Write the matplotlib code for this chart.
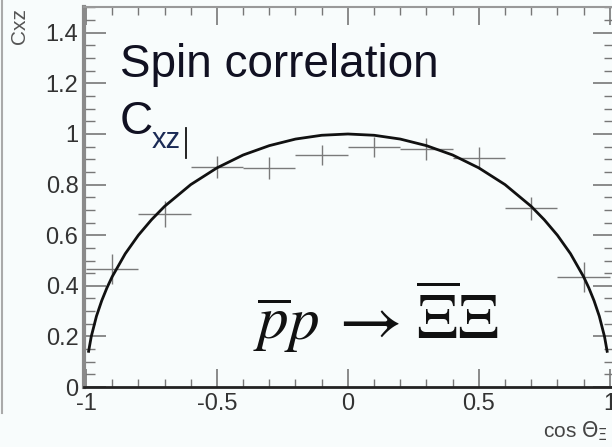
import matplotlib
matplotlib.use("Agg")
import matplotlib.pyplot as plt
from matplotlib.lines import Line2D
from matplotlib.ticker import FixedLocator, MultipleLocator

# measured C_xz per cos(theta) bin
cos_theta = [-0.9, -0.7, -0.5, -0.3, -0.1, 0.1, 0.3, 0.5, 0.7, 0.9]
cxz = [0.466, 0.684, 0.870, 0.866, 0.917, 0.949, 0.940, 0.905, 0.707, 0.435]
cxz_err = [0.060, 0.050, 0.045, 0.042, 0.038, 0.040, 0.043, 0.045, 0.045, 0.060]
bin_half = [0.1] * len(cos_theta)

# model curve
model_x = [-0.99, -0.98, -0.96, -0.94, -0.92, -0.90, -0.85, -0.80, -0.75, -0.70,
           -0.60, -0.50, -0.40, -0.30, -0.20, -0.10, 0.0,
           0.10, 0.20, 0.30, 0.40, 0.50, 0.60, 0.70, 0.75, 0.80,
           0.85, 0.90, 0.92, 0.94, 0.96, 0.98, 0.99]
model_y = [0.141, 0.199, 0.280, 0.341, 0.392, 0.436, 0.527, 0.600, 0.661, 0.714,
           0.800, 0.866, 0.917, 0.954, 0.980, 0.995, 1.000,
           0.995, 0.980, 0.954, 0.917, 0.866, 0.800, 0.714, 0.661, 0.600,
           0.527, 0.436, 0.392, 0.341, 0.280, 0.199, 0.141]

x_ticks = [-1, -0.5, 0, 0.5, 1]
x_labels = ["-1", "-0.5", "0", "0.5", "1"]
y_ticks = [0, 0.2, 0.4, 0.6, 0.8, 1.0, 1.2, 1.4]
y_labels = ["0", "0.2", "0.4", "0.6", "0.8", "1", "1.2", "1.4"]

W, H = 612, 447
bg = "#f8fcfc"

fig = plt.figure(figsize=(W / 100, H / 100), dpi=100, facecolor=bg)


def px(x, y):
    return x / W, 1 - y / H


ax = fig.add_axes([84 / W, (H - 387) / H, 531 / W, 379.5 / H], facecolor=bg)
ax.set_xlim(-1.0076, 1.02)
ax.set_ylim(0, 1.5)

ax.errorbar(cos_theta, cxz, xerr=bin_half, yerr=cxz_err, fmt="none",
            ecolor="#7a7a7a", elinewidth=1.0, capsize=0, zorder=2)
ax.plot(model_x, model_y, color="#111111", lw=2.0, zorder=3)

ax.xaxis.set_major_locator(FixedLocator(x_ticks))
ax.set_xticklabels(x_labels)
ax.xaxis.set_minor_locator(MultipleLocator(0.1))
ax.yaxis.set_major_locator(FixedLocator(y_ticks))
ax.set_yticklabels(y_labels)
ax.yaxis.set_minor_locator(MultipleLocator(0.05))

ax.tick_params(which="both", direction="in", top=True, right=True,
               colors="#777777", labelcolor="#333333")
ax.tick_params(which="major", length=13, width=1.2)
ax.tick_params(which="minor", length=6, width=1.0)
ax.tick_params(axis="y", which="major", length=16)
ax.tick_params(axis="y", which="minor", length=8)
ax.tick_params(axis="x", labelsize=17, pad=4)
ax.tick_params(axis="y", labelsize=17, pad=4)
for lab in ax.get_xticklabels() + ax.get_yticklabels():
    lab.set_fontfamily("Liberation Sans")

ax.spines["left"].set_color("#8a8a8a")
ax.spines["left"].set_linewidth(3)
ax.spines["bottom"].set_color("#222222")
ax.spines["bottom"].set_linewidth(2)
ax.spines["top"].set_color("#999999")
ax.spines["top"].set_linewidth(1.5)
ax.spines["right"].set_color("#999999")

# headline text
fig.text(*px(120, 77), "Spin correlation", fontsize=33, family="Liberation Sans",
         color="#111122", ha="left", va="baseline")
fig.text(*px(120, 134), "C", fontsize=33, family="Liberation Sans",
         color="#111122", ha="left", va="baseline")
fig.text(*px(152, 148), "xz", fontsize=21, family="Liberation Sans",
         color="#1a2a55", ha="left", va="baseline")
fig.add_artist(Line2D([186 / W, 186 / W], [1 - 128 / H, 1 - 158 / H],
                      color="#111111", lw=1.3))

# reaction: pbar p -> Xibar Xi
fig.text(*px(253, 340), r"$\overline{p}p$", fontsize=44, math_fontfamily="stix",
         color="#111111", ha="left", va="baseline")
fig.text(*px(328, 340), r"$\rightarrow$", fontsize=50, math_fontfamily="stix",
         color="#111111", ha="left", va="baseline")
fig.text(*px(416, 340), r"$\overline{\Xi}\Xi$", fontsize=46, math_fontfamily="stix",
         color="#111111", ha="left", va="baseline")

# axis titles
fig.text(*px(20, 8), "Cxz", rotation=90, fontsize=15, family="Liberation Sans",
         color="#555555", ha="center", va="top")
fig.text(*px(543, 437), r"cos $\Theta_{\Xi}$", fontsize=15,
         family="Liberation Sans", math_fontfamily="dejavusans",
         color="#444444", ha="left", va="baseline")

# left frame edge
fig.add_artist(Line2D([1.5 / W, 1.5 / W], [1.0, 1 - 413 / H],
                      color="#aaaaaa", lw=1.5))

fig.savefig("out.png", dpi=100, facecolor=bg)
